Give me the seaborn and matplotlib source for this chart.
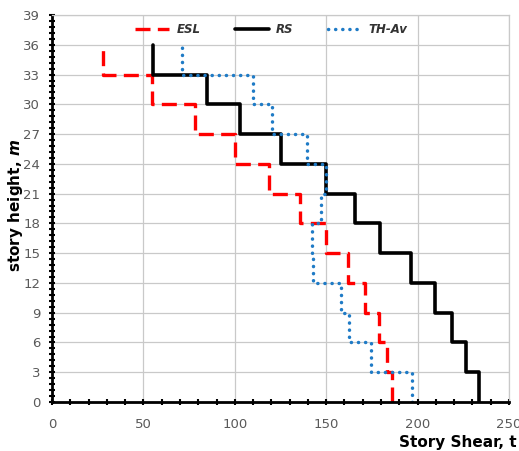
import numpy as np
import pandas as pd
import matplotlib
matplotlib.use("Agg")
import matplotlib.pyplot as plt
from matplotlib.ticker import MultipleLocator, AutoMinorLocator
import seaborn as sns

# Story levels (m) and story shear (t) per story, bottom story first
story_bottom = [0, 3, 6, 9, 12, 15, 18, 21, 24, 27, 30, 33]
story_height = 3
esl = [186, 183.4, 178.9, 171.4, 161.7, 150, 135.5, 118.6, 100, 78, 54.5, 28]
rs = [233.5, 226.6, 219, 209.6, 196.2, 179.6, 165.6, 149.7, 125.5, 103, 85, 55]
th_av = [196.9, 174.7, 162.5, 158.3, 142.8, 142.3, 147.4, 149.7, 139.5, 120.6, 109.7, 71.2]
series_names = ["ESL", "RS", "TH-Av"]
x_ticks = [0, 50, 100, 150, 200, 250]
y_ticks = list(range(0, 40, 3))


def profile(name, values):
    rows = []
    order = 0
    for b, v in zip(story_bottom, values):
        rows.append((name, v, b, order)); order += 1
        rows.append((name, v, b + story_height, order)); order += 1
    return rows


rows = profile("ESL", esl) + profile("RS", rs) + profile("TH-Av", th_av)
df = pd.DataFrame(rows, columns=["series", "shear", "height", "order"])

sns.set_theme(style="white")
plt.rcParams["font.family"] = ["Liberation Sans Narrow", "DejaVu Sans"]
plt.rcParams["mathtext.fontset"] = "dejavusans"

fig = plt.figure(figsize=(5.19, 4.51), dpi=100)
ax = fig.add_axes([0.1002, 0.1086, 0.8805, 0.8581])

styles = {
    "ESL": dict(color="#ff0000", lw=2.4, dashes=(4.5, 2.2)),
    "RS": dict(color="#000000", lw=2.6),
    "TH-Av": dict(color="#1f7bc6", lw=2.5, dashes=(0.05, 2.0)),
}
for name in series_names:
    d = df[df.series == name].sort_values("order")
    st = styles[name]
    kw = dict(color=st["color"], lw=st["lw"])
    if "dashes" in st:
        kw["dashes"] = st["dashes"]
    sns.lineplot(data=d, x="shear", y="height", sort=False, estimator=None,
                 ax=ax, label=name, **kw)
    if name == "TH-Av":
        ax.lines[-1].set_dash_capstyle("round")

ax.set_xlim(0, 250)
ax.set_ylim(0, 39)
ax.set_xticks(x_ticks)
ax.set_yticks(y_ticks)
ax.xaxis.set_minor_locator(MultipleLocator(10))
ax.yaxis.set_minor_locator(AutoMinorLocator(5))
ax.grid(True, which="major", color="#c9c9c9", lw=0.9)
ax.set_axisbelow(True)

for s in ["top", "right"]:
    ax.spines[s].set_color("#c9c9c9")
    ax.spines[s].set_linewidth(0.9)
for s in ["left", "bottom"]:
    ax.spines[s].set_color("black")
    ax.spines[s].set_linewidth(2.0)

ax.tick_params(axis="both", which="both", bottom=True, left=True, top=False, right=False)
ax.tick_params(axis="both", which="major", direction="inout", length=5, width=1.5,
               color="black", labelsize=9.5, labelcolor="#595959")
ax.tick_params(axis="both", which="minor", direction="inout", length=4, width=1.5,
               color="black")
ax.tick_params(axis="x", which="major", pad=9)
ax.tick_params(axis="y", which="major", pad=6)

ax.set_xlabel("")
ax.set_ylabel("")
fig.text(0.996, 0.003, "Story Shear, t", fontsize=11, fontweight="bold",
         family="DejaVu Sans", color="black", ha="right", va="bottom")
fig.text(0.048, 0.545, r"story height, $\mathbfit{m}$", fontsize=11,
         fontweight="bold", family="DejaVu Sans", color="black",
         rotation=90, ha="right", va="center")

leg = ax.legend(ncol=3, loc="center", bbox_to_anchor=(0.48, 0.962), frameon=False,
                handlelength=2.9, columnspacing=2.9, handletextpad=0.6,
                prop=dict(family=["Liberation Sans Narrow", "DejaVu Sans"],
                          style="italic", weight="bold", size=8.5))
for t in leg.get_texts():
    t.set_color("#333333")
for h in leg.get_lines():
    if h.get_label() == "TH-Av":
        h.set_dash_capstyle("round")

fig.savefig("out.png", dpi=100, facecolor="white")
